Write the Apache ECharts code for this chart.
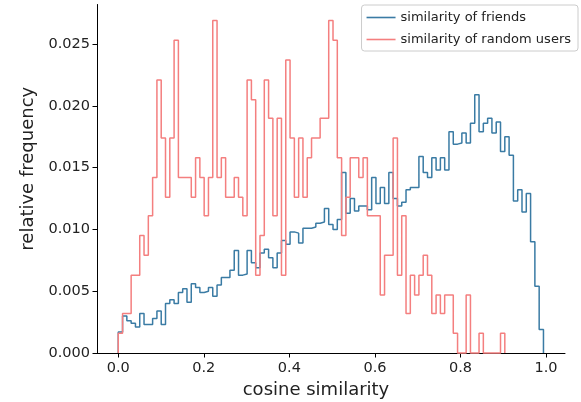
<!DOCTYPE html>
<html>
<head>
<meta charset="utf-8">
<script src="https://cdn.jsdelivr.net/npm/echarts@6/dist/echarts.min.js"></script>
<style>
  html, body { margin: 0; padding: 0; background: #fff; }
  #chart { width: 581px; height: 402px; }
</style>
</head>
<body>
<div id="chart"></div>
<script>
// Histogram bin width (in cosine-similarity units); bins start at 0.
const binWidth = 0.01004;

// relative frequency per bin: similarity of friends
const friends = [
  0.0017, 0.0030, 0.0026, 0.0024, 0.0021, 0.0032, 0.0023, 0.0023, 0.0028, 0.0034,
  0.0023, 0.0040, 0.0043, 0.0040, 0.0049, 0.0052, 0.0041, 0.0056, 0.0053, 0.0049,
  0.0050, 0.0053, 0.0046, 0.0055, 0.0061, 0.0061, 0.0067, 0.0083, 0.0063, 0.0064,
  0.0083, 0.0073, 0.0069, 0.0081, 0.0084, 0.0077, 0.0069, 0.0081, 0.0091, 0.0088,
  0.0098, 0.0097, 0.0089, 0.0101, 0.0101, 0.0102, 0.0105, 0.0106, 0.0117, 0.0104,
  0.0100, 0.0108, 0.0146, 0.0113, 0.0125, 0.0115, 0.0119, 0.0119, 0.0116, 0.0142,
  0.0121, 0.0134, 0.0121, 0.0146, 0.0125, 0.0119, 0.0122, 0.0132, 0.0134, 0.0134,
  0.0159, 0.0146, 0.0142, 0.0158, 0.0148, 0.0158, 0.0148, 0.0179, 0.0169, 0.0170,
  0.0178, 0.0170, 0.0186, 0.0209, 0.0179, 0.0186, 0.0190, 0.0178, 0.0187, 0.0163,
  0.0175, 0.0160, 0.0123, 0.0132, 0.0114, 0.0129, 0.0090, 0.0054, 0.0019
];

// relative frequency per bin: similarity of random users
const randomUsers = [
  0.0016, 0.0032, 0.0032, 0.0063, 0.0063, 0.0095, 0.0079, 0.0111, 0.0142, 0.0221,
  0.0174, 0.0126, 0.0174, 0.0253, 0.0142, 0.0142, 0.0142, 0.0126, 0.0158, 0.0142,
  0.0111, 0.0142, 0.0269, 0.0142, 0.0158, 0.0126, 0.0126, 0.0142, 0.0126, 0.0111,
  0.0221, 0.0205, 0.0063, 0.0095, 0.0221, 0.0190, 0.0111, 0.0190, 0.0063, 0.0237,
  0.0174, 0.0126, 0.0174, 0.0126, 0.0158, 0.0174, 0.0174, 0.0190, 0.0190, 0.0269,
  0.0253, 0.0158, 0.0095, 0.0126, 0.0158, 0.0158, 0.0142, 0.0158, 0.0111, 0.0111,
  0.0111, 0.0047, 0.0079, 0.0079, 0.0174, 0.0063, 0.0111, 0.0032, 0.0063, 0.0047,
  0.0063, 0.0079, 0.0063, 0.0032, 0.0047, 0.0032, 0.0047, 0.0047, 0.0016, 0.0000,
  0.0000, 0.0047, 0.0000, 0.0000, 0.0016, 0.0000, 0.0000, 0.0000, 0.0000, 0.0016
];

const xTicks = [0.0, 0.2, 0.4, 0.6, 0.8, 1.0];
const yTicks = [0.000, 0.005, 0.010, 0.015, 0.020, 0.025];

const seriesNames = ['similarity of friends', 'similarity of random users'];
const colors = ['#3a7ba4', '#f47f7f'];

function stepPoints(vals) {
  const pts = [[0, 0]];
  for (let i = 0; i < vals.length; i++) {
    pts.push([i * binWidth, vals[i]]);
    pts.push([(i + 1) * binWidth, vals[i]]);
  }
  pts.push([vals.length * binWidth, 0]);
  return pts;
}

const FONT = 'DejaVu Sans';
const chart = echarts.init(document.getElementById('chart'), null, { renderer: 'canvas' });

chart.setOption({
  animation: false,
  backgroundColor: '#ffffff',
  textStyle: { fontFamily: FONT },
  grid: { left: 97, right: 16, top: 4.5, bottom: 49, containLabel: false, outerBoundsMode: 'none' },
  legend: {
    orient: 'vertical',
    right: 3,
    top: 5,
    icon: 'rect',
    itemWidth: 29,
    itemHeight: 1.6,
    itemGap: 9,
    padding: [6, 7, 5, 5],
    borderColor: '#cccccc',
    borderWidth: 1,
    borderRadius: 3,
    backgroundColor: 'rgba(255,255,255,0.8)',
    textStyle: { fontFamily: FONT, fontSize: 13, color: '#222' },
    data: seriesNames
  },
  xAxis: {
    type: 'value',
    min: -0.0497,
    max: 1.0443,
    name: 'cosine similarity',
    nameLocation: 'middle',
    nameGap: 27,
    nameTextStyle: { fontFamily: FONT, fontSize: 18, color: '#222', padding: [0, 30, 0, 0] },
    axisLine: { show: true, onZero: false, lineStyle: { color: '#000', width: 1 } },
    axisTick: { show: true, inside: false, length: 4.5, customValues: xTicks, lineStyle: { color: '#000', width: 1 } },
    axisLabel: {
      customValues: xTicks,
      margin: 8,
      fontFamily: FONT,
      fontSize: 14.5,
      color: '#222',
      formatter: v => v.toFixed(1)
    },
    splitLine: { show: false }
  },
  yAxis: {
    type: 'value',
    min: 0,
    max: 0.0282,
    name: 'relative frequency',
    nameLocation: 'middle',
    nameRotate: 90,
    nameGap: 59,
    nameTextStyle: { fontFamily: FONT, fontSize: 18, color: '#222', padding: [0, 0, 0, 20] },
    axisLine: { show: true, onZero: false, lineStyle: { color: '#000', width: 1 } },
    axisTick: { show: true, inside: false, length: 4.5, customValues: yTicks, lineStyle: { color: '#000', width: 1 } },
    axisLabel: {
      customValues: yTicks,
      margin: 7,
      fontFamily: FONT,
      fontSize: 14.5,
      color: '#222',
      formatter: v => v.toFixed(3)
    },
    splitLine: { show: false }
  },
  series: [
    {
      name: seriesNames[0],
      type: 'line',
      data: stepPoints(friends),
      symbol: 'none',
      showSymbol: false,
      clip: false,
      color: colors[0],
      lineStyle: { color: colors[0], width: 1.5 },
      z: 2
    },
    {
      name: seriesNames[1],
      type: 'line',
      data: stepPoints(randomUsers),
      symbol: 'none',
      showSymbol: false,
      clip: false,
      color: colors[1],
      lineStyle: { color: colors[1], width: 1.5 },
      z: 3
    }
  ]
});
</script>
</body>
</html>
